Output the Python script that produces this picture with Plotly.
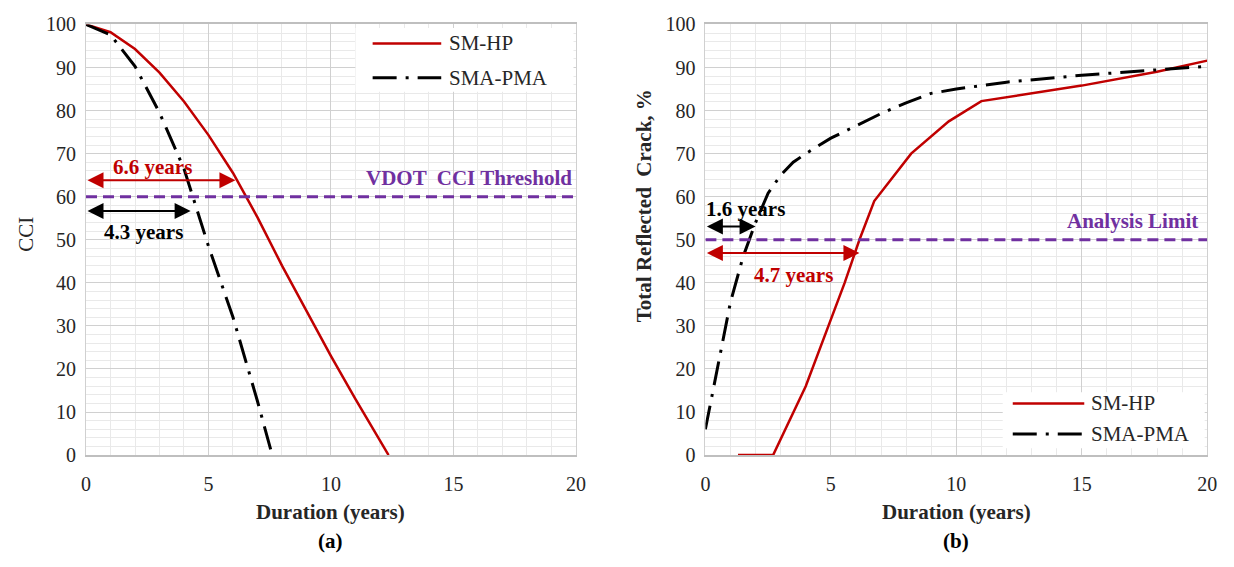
import plotly.graph_objects as go

# ---- Panel (a): Critical Condition Index over time ----
cci_years_smhp = [0, 1, 2, 3, 4, 5, 6, 7, 8, 9, 10, 11, 12.35]
cci_smhp = [100, 98.2, 94.3, 88.8, 82.1, 74.3, 65.5, 55.2, 44, 33.4, 23, 13, 0]
cci_years_sma = [0, 1, 2, 3, 4, 5, 6, 7, 7.6]
cci_sma = [100, 97.6, 90.3, 79.5, 66.5, 48.5, 32, 12.5, 0]

# ---- Panel (b): total reflected cracking over time ----
crack_years_smhp = [1.3, 2.7, 4, 5, 5.55, 6.14, 6.73, 8.2, 9.7, 11, 13, 15, 18, 20]
crack_smhp = [0, 0, 16, 31.5, 40, 50, 59, 70, 77.5, 82.2, 84, 85.8, 89, 91.6]
crack_years_sma = [0, 0.5, 1, 1.5, 2, 2.5, 3, 3.5, 4, 5, 6, 7, 8, 9, 10, 12, 15, 18, 20]
crack_sma = [6, 20.5, 35.5, 46, 54, 60.8, 65, 68, 70, 73.6, 76.4, 79.3, 81.8, 84, 85,
             86.6, 88.2, 89.5, 90.3]

series_names = ["SM-HP", "SMA-PMA"]
x_ticks = [0, 5, 10, 15, 20]
y_ticks = [0, 10, 20, 30, 40, 50, 60, 70, 80, 90, 100]
cci_threshold = 60
analysis_limit = 50

# time-to-limit spans: (label, end year, arrow level, label x, label y, colour)
spans_a = [("6.6 years", 6.1, 63.8, 2.7, 66.9, "#C00000"),
           ("4.3 years", 4.27, 56.7, 2.34, 51.9, "#000000")]
spans_b = [("1.6 years", 2.0, 53.1, 1.6, 57.2, "#000000"),
           ("4.7 years", 6.14, 46.9, 3.5, 41.9, "#C00000")]

RED = "#C00000"
BLACK = "#000000"
PURPLE = "#7030A0"
SERIF = "Times New Roman, Liberation Serif, DejaVu Serif, serif"
DASHDOT = "24px,9px,3px,9px"

W, H = 1234, 567
fig = go.Figure()

fig.add_trace(go.Scatter(x=cci_years_smhp, y=cci_smhp, mode="lines", name=series_names[0],
                         line=dict(color=RED, width=2.5), xaxis="x", yaxis="y"))
fig.add_trace(go.Scatter(x=cci_years_sma, y=cci_sma, mode="lines", name=series_names[1],
                         line=dict(color=BLACK, width=3, dash=DASHDOT), xaxis="x", yaxis="y"))
fig.add_trace(go.Scatter(x=crack_years_smhp, y=crack_smhp, mode="lines", name=series_names[0],
                         line=dict(color=RED, width=2.5), xaxis="x2", yaxis="y2"))
fig.add_trace(go.Scatter(x=crack_years_sma, y=crack_sma, mode="lines", name=series_names[1],
                         line=dict(color=BLACK, width=3, dash=DASHDOT), xaxis="x2", yaxis="y2"))

major = "#d0d0d0"
minor = "#e9e9e9"
tickfont = dict(family=SERIF, size=20, color="#262626")


def xaxis(domain, anchor):
    return dict(domain=domain, anchor=anchor, range=[0, 20], tickvals=x_ticks,
                showgrid=True, gridcolor=major, gridwidth=1, zeroline=False,
                minor=dict(dtick=1, showgrid=True, gridcolor=minor, gridwidth=1),
                showline=True, linecolor="#bfbfbf", linewidth=1.5, mirror=True,
                ticks="", ticklabelstandoff=10, tickfont=tickfont, fixedrange=True)


def yaxis(domain, anchor):
    return dict(domain=domain, anchor=anchor, range=[0, 100], tickvals=y_ticks,
                showgrid=True, gridcolor=major, gridwidth=1, zeroline=False,
                minor=dict(dtick=2, showgrid=True, gridcolor=minor, gridwidth=1),
                showline=True, linecolor="#d0d0d0", linewidth=1, mirror=True,
                ticks="", ticklabelstandoff=5, tickfont=tickfont, fixedrange=True)


ydom = [1 - 462 / H, 1 - 14 / H]
fig.update_layout(
    width=W, height=H, autosize=False,
    margin=dict(l=0, r=0, t=0, b=0),
    paper_bgcolor="white", plot_bgcolor="white",
    showlegend=False,
    xaxis=xaxis([82 / W, 578 / W], "y"),
    yaxis=yaxis(ydom, "x"),
    xaxis2=xaxis([709 / W, 1217 / W], "y2"),
    yaxis2=yaxis(ydom, "x2"),
)

shapes = []
annotations = []

# limit lines
shapes.append(dict(type="line", xref="x", yref="y", x0=0, x1=20, y0=cci_threshold, y1=cci_threshold,
                   line=dict(color=PURPLE, width=3, dash="11px,6px")))
shapes.append(dict(type="line", xref="x2", yref="y2", x0=0, x1=20, y0=analysis_limit, y1=analysis_limit,
                   line=dict(color=PURPLE, width=3, dash="11px,6px")))
annotations.append(dict(xref="x", yref="y", x=19.9, y=cci_threshold + 1.2, text="<b>VDOT  CCI Threshold</b>",
                        showarrow=False, xanchor="right", yanchor="bottom",
                        font=dict(family=SERIF, size=21, color=PURPLE)))
annotations.append(dict(xref="x2", yref="y2", x=19.7, y=analysis_limit + 1.0, text="<b>Analysis Limit</b>",
                        showarrow=False, xanchor="right", yanchor="bottom",
                        font=dict(family=SERIF, size=21, color=PURPLE)))

# double-headed span arrows with their labels
for xr, yr, spans in (("x", "y", spans_a), ("x2", "y2", spans_b)):
    for label, x_end, level, lx, ly, col in spans:
        annotations.append(dict(xref=xr, yref=yr, axref=xr, ayref=yr, x=x_end, y=level, ax=0, ay=level,
                                text="", showarrow=True, arrowhead=2, arrowside="end+start",
                                arrowsize=1.6, arrowwidth=2, arrowcolor=col, standoff=0, startstandoff=0))
        annotations.append(dict(xref=xr, yref=yr, x=lx, y=ly, text="<b>%s</b>" % label, showarrow=False,
                                xanchor="center", yanchor="middle",
                                font=dict(family=SERIF, size=21, color=col)))

# legend boxes drawn inside each panel
legend_specs = [
    ("x", "y", (11.0, 19.9, 84.4, 99.2), (11.7, 14.5, 14.75), (95.6, 87.6)),
    ("x2", "y2", (11.85, 19.9, 1.6, 14.6), (12.25, 15.1, 15.3), (12.0, 4.9)),
]
for xr, yr, box, sample, rows in legend_specs:
    bx0, bx1, by0, by1 = box
    sx0, sx1, tx = sample
    shapes.append(dict(type="rect", xref=xr, yref=yr, x0=bx0, x1=bx1, y0=by0, y1=by1,
                       fillcolor="white", line=dict(width=0), layer="above"))
    styles = [dict(color=RED, width=2.5), dict(color=BLACK, width=3, dash=DASHDOT)]
    for name, row, st in zip(series_names, rows, styles):
        shapes.append(dict(type="line", xref=xr, yref=yr, x0=sx0, x1=sx1, y0=row, y1=row,
                           line=st, layer="above"))
        annotations.append(dict(xref=xr, yref=yr, x=tx, y=row, text=name, showarrow=False,
                                xanchor="left", yanchor="middle",
                                font=dict(family=SERIF, size=21, color="#262626")))


def caption(x_px, y_px, text, angle=0, color="#262626"):
    return dict(xref="paper", yref="paper", x=x_px / W, y=1 - y_px / H, text=text,
                textangle=angle, xanchor="center", yanchor="middle", showarrow=False,
                font=dict(family=SERIF, size=21, color=color))


# axis titles and panel captions
annotations += [
    caption(330, 521, "<b>Duration (years)</b>"),
    caption(963, 521, "<b>Duration (years)</b>"),
    caption(330, 551, "<b>(a)</b>", color="#000000"),
    caption(963, 551, "<b>(b)</b>", color="#000000"),
    caption(21, 232, "CCI", angle=-90),
    caption(647, 203, "<b>Total Reflected \u00a0Crack, %</b>", angle=-90),
]

fig.update_layout(shapes=shapes, annotations=annotations)
fig.write_html("out.html")
